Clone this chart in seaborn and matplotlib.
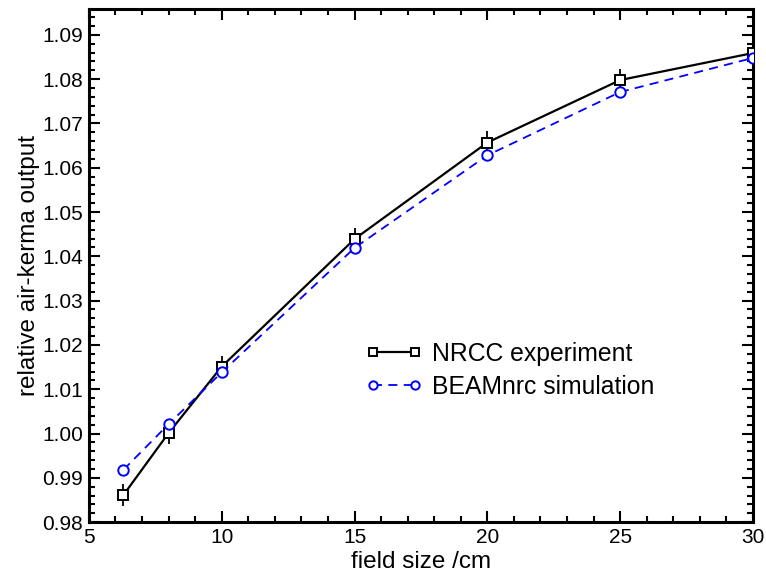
import matplotlib
matplotlib.use("Agg")
import matplotlib.pyplot as plt
import seaborn as sns
import pandas as pd
from matplotlib.ticker import MultipleLocator

# field sizes (cm) and relative air-kerma output
field_size = [6.3, 8, 10, 15, 20, 25, 30]
nrcc = [0.9861, 1.0001, 1.0151, 1.0439, 1.0657, 1.0798, 1.0859]
nrcc_err = [0.0025, 0.0025, 0.0025, 0.0025, 0.0025, 0.0025, 0.0025]
beam = [0.9918, 1.0021, 1.0138, 1.0419, 1.0628, 1.0771, 1.0848]

df = pd.DataFrame({"field": field_size, "NRCC experiment": nrcc,
                   "BEAMnrc simulation": beam})

sns.set_style("ticks")
plt.rcParams["font.family"] = ["Liberation Sans", "DejaVu Sans"]
plt.rcParams["font.size"] = 15
plt.rcParams["text.color"] = "black"
plt.rcParams["axes.labelcolor"] = "black"
plt.rcParams["xtick.color"] = "black"
plt.rcParams["ytick.color"] = "black"

fig = plt.figure(figsize=(7.66, 5.75), dpi=100)
ax = fig.add_axes([0.116, 0.092, 0.867, 0.892])

# error bars (vertical only, no caps)
ax.errorbar(field_size, nrcc, yerr=nrcc_err, fmt="none", ecolor="black",
            elinewidth=1.3, capsize=0, zorder=2)

sns.lineplot(data=df, x="field", y="NRCC experiment", ax=ax, color="black",
             linewidth=1.6, marker="s", markersize=7, markerfacecolor="white",
             markeredgecolor="black", markeredgewidth=1.4,
             label="NRCC experiment", zorder=3)
sns.lineplot(data=df, x="field", y="BEAMnrc simulation", ax=ax, color="#0000ff",
             linewidth=1.3, linestyle=(0, (5, 3.5)), marker="o", markersize=7.5,
             markerfacecolor="white", markeredgecolor="#0000ff",
             markeredgewidth=1.4, label="BEAMnrc simulation", zorder=4)

ax.set_xlim(5, 30)
ax.set_ylim(0.98, 1.0958)
ax.xaxis.set_major_locator(MultipleLocator(5))
ax.xaxis.set_minor_locator(MultipleLocator(1))
ax.yaxis.set_major_locator(MultipleLocator(0.01))
ax.yaxis.set_minor_locator(MultipleLocator(0.002))
ax.yaxis.set_major_formatter(matplotlib.ticker.FormatStrFormatter("%.2f"))

ax.tick_params(which="both", direction="in", top=True, right=True,
               labelsize=15, width=1.5, color="black")
ax.tick_params(which="major", length=8, pad=4)
ax.tick_params(which="minor", length=4.5)
for s in ax.spines.values():
    s.set_linewidth(2.2)
    s.set_color("black")

ax.set_xlabel("field size /cm", fontsize=17.5, labelpad=3)
ax.set_ylabel("relative air-kerma output", fontsize=17.5, labelpad=2)

ax.legend(loc="center left", bbox_to_anchor=(0.416, 0.296), frameon=False,
          borderaxespad=0, borderpad=0, handlelength=2.3, handletextpad=0.4,
          labelspacing=0.35, numpoints=2, fontsize=17.8)
for h in ax.get_legend().legend_handles:
    h.set_markersize(6)

fig.savefig("out.png", dpi=100)
